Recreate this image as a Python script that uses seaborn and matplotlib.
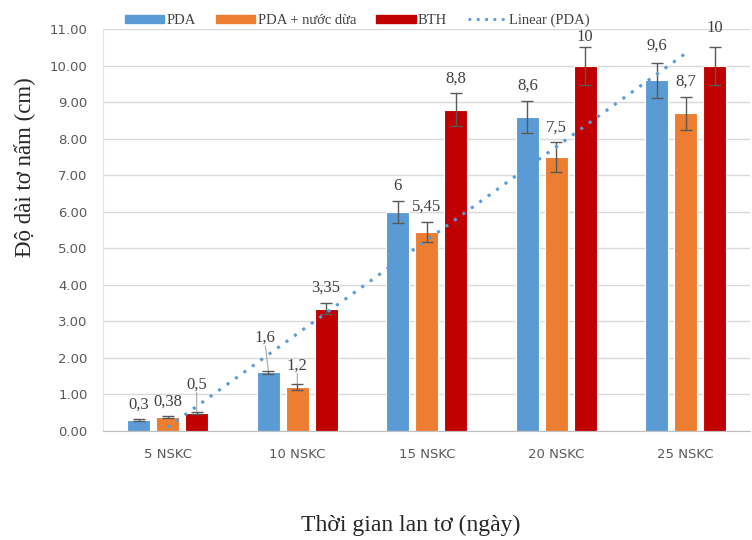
import seaborn as sns
import matplotlib.pyplot as plt
import pandas as pd
import numpy as np
from matplotlib.patches import Patch
from matplotlib.lines import Line2D

# du lieu do dai to nam
days = ['5 NSKC', '10 NSKC', '15 NSKC', '20 NSKC', '25 NSKC']
groups = ['PDA', 'PDA + nước dừa', 'BTH']
pda = [0.3, 1.6, 6.0, 8.6, 9.6]
pda_dua = [0.38, 1.2, 5.45, 7.5, 8.7]
bth = [0.5, 3.35, 8.8, 10.0, 10.0]
err_pda = [0.02, 0.05, 0.3, 0.44, 0.48]
err_pda_dua = [0.02, 0.08, 0.27, 0.4, 0.45]
err_bth = [0.03, 0.15, 0.44, 0.52, 0.52]
labels_pda = ['0,3', '1,6', '6', '8,6', '9,6']
labels_pda_dua = ['0,38', '1,2', '5,45', '7,5', '8,7']
labels_bth = ['0,5', '3,35', '8,8', '10', '10']

colors = ['#5B9BD5', '#ED7D31', '#C00000']
# do lech them cho mot so nhan (pixel); nhan co duong dan
lift = {(0, 1): 18, (2, 0): 12, (1, 1): 4, (2, 3): -5, (2, 4): 4, (0, 4): 2}
leaders = [(0, 1), (2, 0), (1, 1)]

df = pd.DataFrame({
    'day': days * 3,
    'group': [g for g in groups for _ in days],
    'value': pda + pda_dua + bth,
})
errs = [err_pda, err_pda_dua, err_bth]
labs = [labels_pda, labels_pda_dua, labels_bth]
vals = [pda, pda_dua, bth]

sns.set_style('white')
plt.rcParams['font.family'] = ['Liberation Serif', 'DejaVu Serif']

fig = plt.figure(figsize=(7.52, 5.40), dpi=100)
ax = fig.add_axes([0.137, 0.202, 0.861, 0.744])

sns.barplot(data=df, x='day', y='value', hue='group', palette=colors,
            saturation=1, width=0.67, gap=0.2, ax=ax, edgecolor='white',
            linewidth=0.8, legend=False)

# error bars + nhan du lieu
bar_groups = list(ax.containers)
for i, cont in enumerate(bar_groups):
    for j, bar in enumerate(cont):
        xc = bar.get_x() + bar.get_width() / 2
        v = vals[i][j]
        e = errs[i][j]
        ax.errorbar(xc, v, yerr=e, color='#595959', capsize=4, lw=1,
                    capthick=1, zorder=4)
        up = 7 + lift.get((i, j), 0)
        dx = -3 if (i, j) == (0, 1) else 0
        ax.annotate(labs[i][j], (xc, v + e), xytext=(dx, up),
                    textcoords='offset pixels', ha='center', va='bottom',
                    fontsize=12, color='#404040')
        if (i, j) in leaders:
            ax.annotate('', (xc, v + e), xytext=(dx, up),
                        textcoords='offset pixels',
                        arrowprops=dict(arrowstyle='-', color='#A6A6A6',
                                        lw=0.8, shrinkA=0, shrinkB=0))

# duong xu huong tuyen tinh cho PDA
xs = np.arange(len(days))
k, b = np.polyfit(xs + 1, pda, 1)
ax.plot(xs, k * (xs + 1) + b, linestyle=(0, (1, 2.4)), color='#5B9BD5',
        lw=2.2, zorder=5)

ax.set_ylim(0, 11)
ax.set_xlim(-0.5, 4.5)
ax.set_yticks(np.arange(0, 12, 1))
ax.set_yticklabels([f'{t:.2f}' for t in range(12)])
ax.yaxis.grid(True, color='#D9D9D9', lw=1)
ax.set_axisbelow(True)
for t in ax.get_xticklabels() + ax.get_yticklabels():
    t.set_fontfamily('DejaVu Sans')
    t.set_color('#595959')
    t.set_fontsize(9.5)
ax.tick_params(axis='y', length=0, pad=11)
ax.tick_params(axis='x', length=0, pad=12)
for s in ['top', 'right']:
    ax.spines[s].set_visible(False)
ax.spines['left'].set_color('#DCE6F2')
ax.spines['bottom'].set_color('#BFBFBF')

ax.set_xlabel('Thời gian lan tơ (ngày)', fontsize=17)
ax.xaxis.set_label_coords(0.475, -0.208)
ax.set_ylabel('Độ dài tơ nấm (cm)', fontsize=16.5)
ax.yaxis.set_label_coords(-0.105, 0.657)

handles = [Patch(color=c) for c in colors]
handles.append(Line2D([0], [0], color='#5B9BD5', linestyle=(0, (1, 2)), lw=2))
fig.legend(handles, groups + ['Linear (PDA)'], loc='center',
           bbox_to_anchor=(0.475, 0.962), ncol=4, frameon=False,
           fontsize=10.5, handlelength=2.7, handleheight=0.55,
           columnspacing=1.4, handletextpad=0.15, labelcolor='#404040')

fig.savefig('out.png', dpi=100)
